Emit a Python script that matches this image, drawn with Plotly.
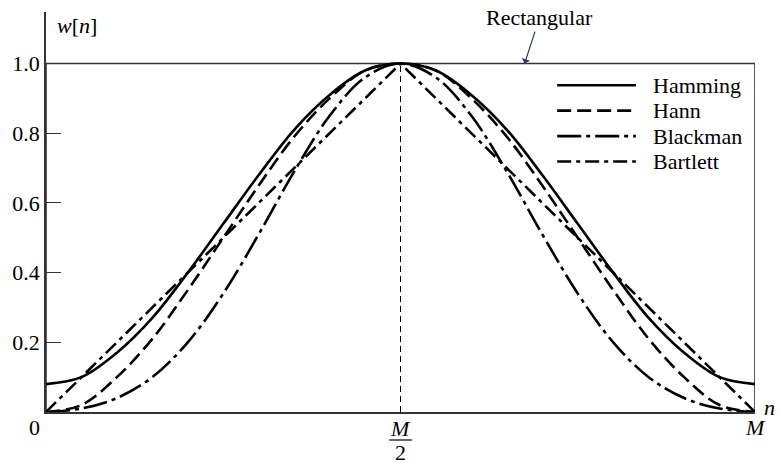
import plotly.graph_objects as go

# n / M sample positions and window values
n_frac = [0.0, 0.05, 0.1, 0.15, 0.2, 0.25, 0.3, 0.35, 0.4, 0.45, 0.5,
          0.55, 0.6, 0.65, 0.7, 0.75, 0.8, 0.85, 0.9, 0.95, 1.0]
hamming = [0.08, 0.10, 0.17, 0.27, 0.40, 0.54, 0.68, 0.81, 0.91, 0.98, 1.0,
           0.98, 0.91, 0.81, 0.68, 0.54, 0.40, 0.27, 0.17, 0.10, 0.08]
hann = [0.0, 0.02, 0.10, 0.21, 0.35, 0.50, 0.65, 0.79, 0.90, 0.98, 1.0,
        0.98, 0.90, 0.79, 0.65, 0.50, 0.35, 0.21, 0.10, 0.02, 0.0]
blackman = [0.0, 0.01, 0.04, 0.10, 0.20, 0.34, 0.51, 0.69, 0.85, 0.96, 1.0,
            0.96, 0.85, 0.69, 0.51, 0.34, 0.20, 0.10, 0.04, 0.01, 0.0]
bartlett = [0.0, 0.1, 0.2, 0.3, 0.4, 0.5, 0.6, 0.7, 0.8, 0.9, 1.0,
            0.9, 0.8, 0.7, 0.6, 0.5, 0.4, 0.3, 0.2, 0.1, 0.0]

rect_x = [0.0, 0.0, 1.0, 1.0]
rect_y = [0.0, 1.0, 1.0, 0.0]
center_x = [0.5, 0.5]
center_y = [0.0, 1.0]

yticks = [0.2, 0.4, 0.6, 0.8, 1.0]

SERIF = 'Liberation Serif'
FS = 22

fig = go.Figure()

fig.add_trace(go.Scatter(x=rect_x, y=rect_y, mode='lines', showlegend=False,
                         line=dict(color='#333', width=1.6)))
fig.add_trace(go.Scatter(x=center_x, y=center_y, mode='lines', showlegend=False,
                         line=dict(color='black', width=1, dash='6px,4px')))

curves = [
    ('Hamming', hamming, 'solid', 'spline'),
    ('Hann', hann, '14px,6px', 'spline'),
    ('Blackman', blackman, '24px,5px,4px,5px', 'spline'),
    ('Bartlett', bartlett, '14px,5px,4px,5px', 'linear'),
]
for name, vals, dash, shape in curves:
    fig.add_trace(go.Scatter(x=n_frac, y=vals, mode='lines', name=name, showlegend=False,
                             line=dict(color='black', width=2.6, dash=dash, shape=shape)))

fig.update_layout(
    width=780, height=463,
    margin=dict(l=42, r=25, t=12, b=51),
    plot_bgcolor='white', paper_bgcolor='white',
    font=dict(family=SERIF, size=FS, color='black'),
    showlegend=False,
)
fig.update_xaxes(range=[0, 1], showgrid=False, zeroline=False, showline=True,
                 linecolor='#333', linewidth=1.6, showticklabels=False, ticks='')
fig.update_yaxes(range=[0, 1.148], showgrid=False, zeroline=False, showline=True,
                 linecolor='#333', linewidth=1.6, tickvals=yticks,
                 ticktext=['0.2', '0.4', '0.6', '0.8', '1.0'],
                 ticks='inside', ticklen=15, tickcolor='#333', tickwidth=1.4)

# hand-made legend with long line samples
for i, (name, vals, dash, shape) in enumerate(curves):
    ly = 0.817 - i * 0.0636
    fig.add_shape(type='line', xref='paper', yref='paper', x0=0.721, x1=0.832, y0=ly, y1=ly,
                  line=dict(color='black', width=2.6, dash=dash))
    fig.add_annotation(x=0.853, y=ly, xref='paper', yref='paper', text=name,
                       xanchor='left', yanchor='middle', showarrow=False,
                       font=dict(family=SERIF, size=FS, color='black'))

ann = dict(showarrow=False, xanchor='center', yanchor='middle',
           font=dict(family=SERIF, size=FS, color='black'))
fig.add_annotation(x=0, y=0, xref='x', yref='y', text='0', xshift=-12, yshift=-15, **ann)
fig.add_annotation(x=0.5, y=0, xref='x', yref='y', text='<i>M</i>', yshift=-16, height=22, **ann)
fig.add_annotation(x=0.5, y=0, xref='x', yref='y', text='2', yshift=-40, height=22, **ann)
fig.add_annotation(x=1, y=0, xref='x', yref='y', text='<i>M</i>', yshift=-15, **ann)
fig.add_annotation(x=1, y=0, xref='x', yref='y', text='<i>n</i>', xshift=14, yshift=5, **ann)
fig.add_annotation(x=0, y=1, xref='x', yref='paper', text='<i>w</i>[<i>n</i>]',
                   xanchor='left', yanchor='middle', xshift=9, yshift=-13, showarrow=False,
                   font=dict(family=SERIF, size=FS, color='black'))
fig.add_annotation(x=0.675, y=1.0, xref='x', yref='y', text='Rectangular',
                   showarrow=True, arrowhead=1, arrowsize=1.2, arrowwidth=1.2,
                   ax=15, ay=-46, font=dict(family=SERIF, size=FS, color='black'))
# fraction bar of the M/2 label (paper refs so it is not clipped)
fig.add_shape(type='line', xref='paper', yref='paper', x0=0.484, x1=0.516,
              ysizemode='pixel', yanchor=0, y0=-28, y1=-28,
              line=dict(color='black', width=1.2))

# drop the default page margin so the figure fills the window exactly
fig.write_html('out.html', config={'displayModeBar': False},
               post_script="document.body.style.margin='0';")
